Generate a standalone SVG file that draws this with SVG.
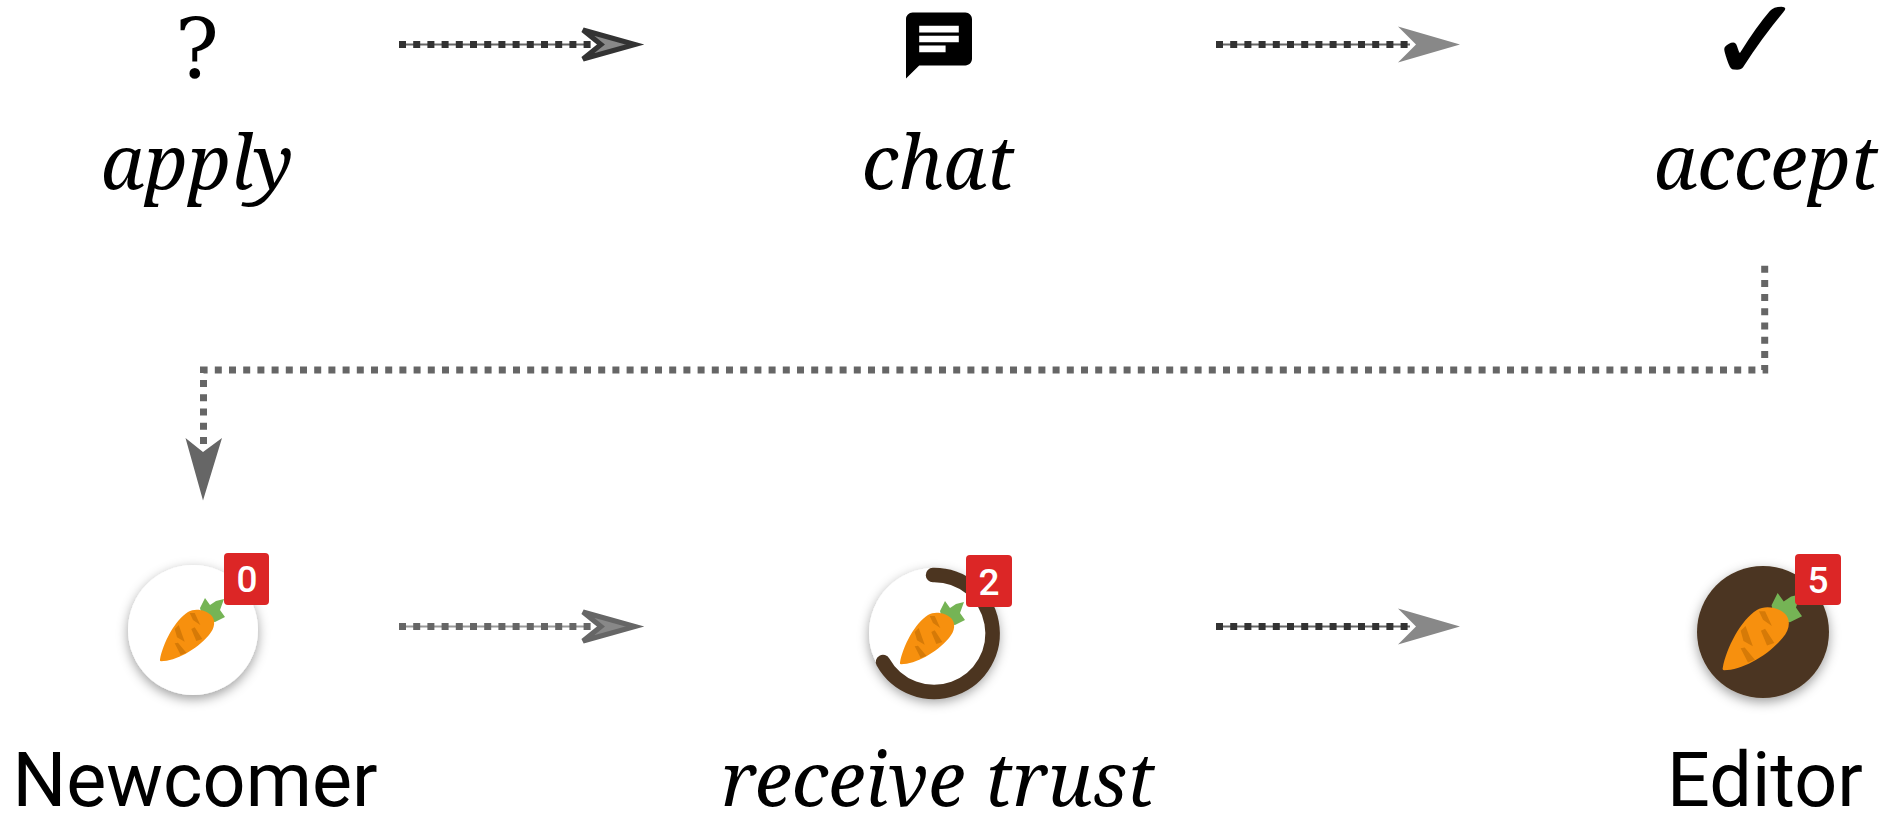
<svg xmlns="http://www.w3.org/2000/svg" xmlns:xlink="http://www.w3.org/1999/xlink" width="1894" height="813" viewBox="0 0 1894 813">
<style>
.it{font-family:"Noto Serif","DejaVu Serif","Liberation Serif",serif;font-style:italic;font-size:75px;fill:#000;text-anchor:middle}
.ro{font-family:Roboto,"Liberation Sans",sans-serif;font-size:75.500px;fill:#000;text-anchor:middle}
.bt{font-family:Roboto,"Liberation Sans",sans-serif;font-size:37px;font-weight:500;fill:#fff;text-anchor:middle}
.badge{fill:#dc2626}
.thin{stroke:#666;stroke-width:2;fill:none}
.thin2{stroke:#999;stroke-width:2;fill:none}
.dots{stroke:#333;stroke-width:7;stroke-dasharray:7 7.2;fill:none}
.big{stroke:#666;stroke-width:7;stroke-dasharray:7 7.2;fill:none}
</style>
<defs>
<filter id="sh" x="-30%" y="-30%" width="160%" height="160%"><feDropShadow dx="0" dy="4" stdDeviation="6" flood-color="#000" flood-opacity="0.38"/></filter>
<g id="carrot">
<path fill="#75b455" d="M7,-22 L12,-32 L17,-25 L23,-29 L31,-31 L27,-20 L32,-13 L22,-8 L10,-10 Z"/>
<path fill="#f7900e" d="M-33,29.500 C-30,13 -18,-10 -5,-18 C2,-22.500 13,-20 18,-15 C23,-10 22,-2 16,5 C3,20 -17,31 -32,31.300 Q-33.500,31 -33,29.500 Z"/>
<path fill="#d67a07" d="M-3.300,-17 L1.700,-17 L7.300,-5 L0,-10 Z M-18.300,-1 L-14.300,-5 L-8.300,11.700 L-16,7.300 Z M-1.700,-1 L1.700,-2.700 L9.300,9 L3.300,11 Z M-18.300,13.300 L-15,12.700 L-6.700,22.700 L-12.300,25 Z"/>
</g>
</defs>
<g id="connectors">
<path class="thin" d="M399 44.500H590"/><path class="dots" d="M399 44.500H604"/>
<path d="M583 30L635 44.500L583 59L601 44.500Z" fill="#888" stroke="#333" stroke-width="5"/>
<path class="thin" d="M1216 44.500H1410"/><path class="dots" d="M1216 44.500H1411"/>
<path d="M1398 26.500L1460 44.500L1398 62.500L1416 44.500Z" fill="#888"/>
<path class="big" d="M1764.700 265.700V370H203.500V449"/>
<path d="M185.500 438L203 500.500L222 438L203 452Z" fill="#666"/>
<path class="thin2" d="M399 626.500H590"/><path class="big" d="M399 626.500H604"/>
<path d="M583 612L635 626.500L583 641L601 626.500Z" fill="#888" stroke="#666" stroke-width="5"/>
<path class="thin" d="M1216 626.500H1410"/><path class="dots" d="M1216 626.500H1411"/>
<path d="M1398 608.500L1460 626.500L1398 644.500L1416 626.500Z" fill="#888"/>
</g>
<g id="apply">
<text x="197" y="78" style="font-family:'DejaVu Serif',serif;font-size:82px" text-anchor="middle">?</text>
<text class="it" x="197" y="189">apply</text>
</g>
<g id="chat">
<path transform="translate(899.400 6) scale(3.3)" d="M20 2H4c-1.100 0-2 .9-2 2v18l4-4h14c1.100 0 2-.9 2-2V4c0-1.100-.9-2-2-2zM6 9h12v2H6V9zm8 5H6v-2h8v2zm4-6H6V6h12v2z"/>
<text class="it" x="938" y="189">chat</text>
</g>
<g id="accept">
<text x="1756" y="80" stroke="#000" stroke-width="1.500" style="font-family:'DejaVu Sans',sans-serif;font-size:115px" text-anchor="middle">✓</text>
<text class="it" x="1766" y="189">accept</text>
</g>
<g id="newcomer">
<circle cx="193" cy="630" r="65" fill="#fff" filter="url(#sh)"/>
<use xlink:href="#carrot" href="#carrot" x="193" y="630"/>
<rect class="badge" x="224" y="553" width="45" height="52" rx="4"/>
<text class="bt" x="247" y="592">0</text>
<text class="ro" x="195" y="806">Newcomer</text>
</g>
<g id="receive-trust">
<circle cx="934" cy="633" r="65" fill="#fff" filter="url(#sh)"/>
<path d="M933 575A58.500 58.500 0 1 1 883 662" fill="none" stroke="#4c3520" stroke-width="14.500" stroke-linecap="round"/>
<use xlink:href="#carrot" href="#carrot" x="933" y="633"/>
<rect class="badge" x="966" y="555" width="46" height="52" rx="4"/>
<text class="bt" x="989" y="594.500">2</text>
<text class="it" x="938" y="806">receive trust</text>
</g>
<g id="editor">
<circle cx="1763" cy="632" r="66" fill="#4c3520" filter="url(#sh)"/>
<use xlink:href="#carrot" transform="translate(1763 632) scale(1.220)" href="#carrot"/>
<rect class="badge" x="1795" y="554" width="46" height="51" rx="4"/>
<text class="bt" x="1818" y="593">5</text>
<text class="ro" x="1765" y="806">Editor</text>
</g>
</svg>
